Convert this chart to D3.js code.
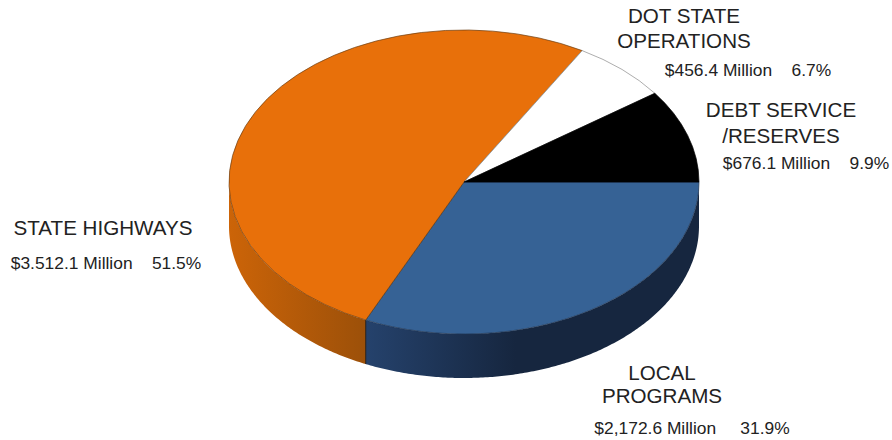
<!DOCTYPE html>
<html><head><meta charset="utf-8">
<script src="https://cdn.jsdelivr.net/npm/d3@7/dist/d3.min.js"></script>
<style>html,body{margin:0;padding:0;background:#fff}svg{display:block}text{font-family:"Liberation Sans",Arial,sans-serif;fill:#222}</style>
</head><body><svg id="c" width="892" height="440"></svg>
<script>
const categories = ["LOCAL PROGRAMS","STATE HIGHWAYS","DOT STATE OPERATIONS","DEBT SERVICE /RESERVES"];
const amounts = [2172.6,3512.1,456.4,676.1];
const topColors = ["#366295","#e8700a","#ffffff","#000000"];
const sideFrom = ["#25426c","#cc6408","#ffffff","#000000"];
const sideTo = ["#16263f","#9c5009","#ffffff","#000000"];
const titleLines = [["LOCAL","PROGRAMS"],["STATE HIGHWAYS"],["DOT STATE","OPERATIONS"],["DEBT SERVICE","/RESERVES"]];
const valueLabels = ["$2,172.6 Million     31.9%","$3.512.1 Million    51.5%","$456.4 Million    6.7%","$676.1 Million    9.9%"];
const labelAnchors = [[662,[380,403],434],[103,[235],269],[684,[23,48],76],[781,[117,143],169]];
const valueAnchors = [692,106,748,806];

const W=892,H=440,cx=464,cy=182,rx=235,ry=152,depth=44;
const svg=d3.select("#c").attr("viewBox",[0,0,W,H]);
const defs=svg.append("defs");
const pie=d3.pie().sort(null).value(d=>d).startAngle(Math.PI/2).endAngle(Math.PI/2+2*Math.PI);
const arcs=pie(amounts);
const sx=a=>cx+rx*Math.sin(a), sy=a=>cy-ry*Math.cos(a);

const area=d3.area().x(a=>sx(a)).y0(a=>sy(a)).y1(a=>sy(a)+depth);
const sideG=svg.append("g");
arcs.forEach((s,i)=>{
  const a0=Math.max(s.startAngle,Math.PI/2), a1=Math.min(s.endAngle,3*Math.PI/2);
  if(a1<=a0) return;
  const id="g"+i;
  const lg=defs.append("linearGradient").attr("id",id).attr("gradientUnits","userSpaceOnUse")
    .attr("x1",sx(a1)).attr("x2",sx(a0)).attr("y1",0).attr("y2",0);
  lg.append("stop").attr("offset",0).attr("stop-color",sideFrom[i]);
  if(i==0) lg.append("stop").attr("offset",0.45).attr("stop-color",sideTo[i]);
  lg.append("stop").attr("offset",1).attr("stop-color",sideTo[i]);
  sideG.append("path").attr("d",area(d3.range(a0,a1,0.01).concat([a1]))).attr("fill",`url(#${id})`);
});
const divA=arcs[0].endAngle;
sideG.append("line").attr("x1",sx(divA)).attr("x2",sx(divA)).attr("y1",sy(divA)).attr("y2",sy(divA)+depth)
  .attr("stroke","#2a1c10").attr("stroke-width",1);

const arc=d3.arc().innerRadius(0).outerRadius(rx);
const topFace=svg.append("g").attr("transform",`translate(${cx},${cy}) scale(1,${ry/rx})`);
topFace.selectAll("path").data(arcs).join("path")
  .attr("d",arc).attr("fill",(d,i)=>topColors[i])
  .attr("stroke",(d,i)=>i==0?"#1f3350":i==1?"#6b3f14":i==2?"#8a8a8a":"#000")
  .attr("stroke-width",0.7).attr("vector-effect","non-scaling-stroke");

const lab=svg.append("g");
categories.forEach((c,i)=>{
  const [x,ys,vy]=labelAnchors[i];
  titleLines[i].forEach((t,j)=>{
    lab.append("text").attr("x",x).attr("y",ys[j]).attr("text-anchor","middle").attr("font-size",20.6).text(t);
  });
  lab.append("text").attr("x",valueAnchors[i]).attr("y",vy).attr("text-anchor","middle").attr("font-size",17.4)
    .style("white-space","pre").text(valueLabels[i]);
});
</script></body></html>
